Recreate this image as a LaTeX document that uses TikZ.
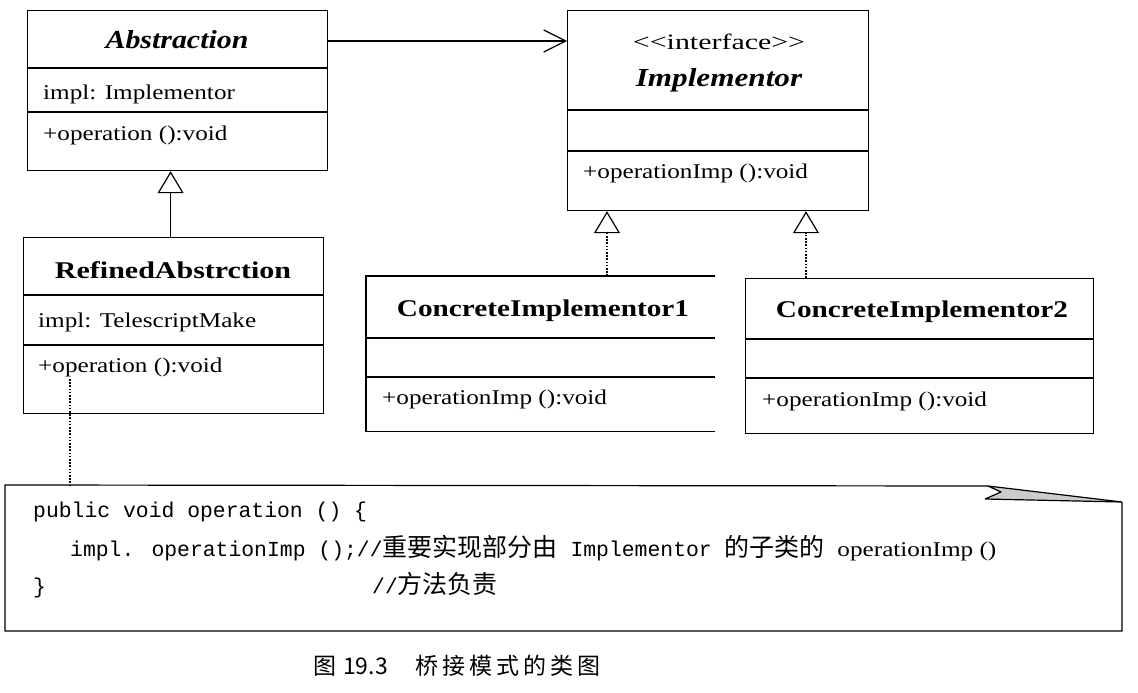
\documentclass[tikz,border=0pt]{standalone}
\usepackage{fontspec}
\usepackage{graphicx}
\setmainfont{Liberation Serif}
\newfontfamily\monof{Liberation Mono}
\newfontfamily\cjkf{Noto Sans CJK SC}
\usetikzlibrary{arrows.meta,calc}
\newcommand\sxx[2][1.2]{\scalebox{#1}[1]{#2}}
\newcommand\ck{\kern4pt}
\begin{document}
\begin{tikzpicture}[x=1pt,y=-1pt,
  cls/.style={draw, line width=1.2pt, anchor=north west, inner sep=0pt},
  ghost/.style={anchor=north west, inner sep=0pt},
  sepline/.style={line width=1.2pt},
  ttl/.style={inner sep=0pt, font=\fontsize{24}{24}\selectfont\bfseries},
  ittl/.style={inner sep=0pt, font=\fontsize{26}{26}\selectfont\bfseries\itshape},
  mem/.style={anchor=west, inner sep=0pt, font=\fontsize{21}{21}\selectfont},
  code/.style={anchor=base west, inner sep=0pt, font=\fontsize{21.4}{21.4}\monof},
  assoc/.style={line width=1.2pt, -{Straight Barb[length=22pt,width=22pt,line width=1.2pt]}},
  gen/.style={line width=1.2pt, -{Triangle[open,length=22pt,width=26pt,line width=1.2pt]}},
  real/.style={line width=1.6pt, dash pattern=on 1.6pt off 1.6pt, -{Triangle[open,length=22pt,width=26pt,line width=1.2pt]}},
  notelink/.style={line width=1.6pt, dash pattern=on 1.6pt off 1.6pt}
]
\useasboundingbox (0,0) rectangle (1138,693);

% Abstraction
\node[cls, minimum width=300pt, minimum height=160pt] (abs) at (27,10) {};
\draw[sepline] ($(abs.north west)+(0,58)$) -- ($(abs.north east)+(0,58)$);
\draw[sepline] ($(abs.north west)+(0,102)$) -- ($(abs.north east)+(0,102)$);
\node[ittl] (absT) at (177,40) {\sxx[1.15]{Abstraction}};
\node[mem] (absA) at (43,94) {\sxx{impl: Implementor}};
\node[mem] (absO) at (43,135) {\sxx{+operation ():void}};

% RefinedAbstraction
\node[cls, minimum width=300pt, minimum height=176pt] (ref) at (23,237) {};
\draw[sepline] ($(ref.north west)+(0,58)$) -- ($(ref.north east)+(0,58)$);
\draw[sepline] ($(ref.north west)+(0,108)$) -- ($(ref.north east)+(0,108)$);
\node[ttl] (refT) at (173,270) {\sxx[1.25]{RefinedAbstrction}};
\node[mem] (refA) at (38,322) {\sxx{impl: TelescriptMake}};
\node[mem] (refO) at (38,367) {\sxx{+operation ():void}};
\coordinate (refDot) at (70,379);

% Implementor
\node[cls, minimum width=301pt, minimum height=200pt] (imp) at (567,10) {};
\draw[sepline] ($(imp.north west)+(0,100)$) -- ($(imp.north east)+(0,100)$);
\draw[sepline] ($(imp.north west)+(0,141)$) -- ($(imp.north east)+(0,141)$);
\node[inner sep=0pt, font=\fontsize{22}{22}\selectfont] (impS) at (719,42) {\sxx[1.36]{<\kern0pt<interface>\kern0pt>}};
\node[ittl] (impT) at (719,80) {\sxx[1.2]{Implementor}};
\node[mem] (impO) at (583,173) {\sxx{+operationImp ():void}};

% ConcreteImplementor1 (no right edge)
\node[ghost, minimum width=349pt, minimum height=155pt] (ci1) at (366,276) {};
\draw[sepline] (ci1.north east) -- (ci1.north west) -- (ci1.south west) -- (ci1.south east);
\draw[sepline] ($(ci1.north west)+(0,62)$) -- ($(ci1.north east)+(0,62)$);
\draw[sepline] ($(ci1.north west)+(0,101)$) -- ($(ci1.north east)+(0,101)$);
\node[ttl] (ci1T) at (543,311) {\sxx[1.22]{ConcreteImplementor1}};
\node[mem] (ci1O) at (382,399) {\sxx{+operationImp ():void}};

% ConcreteImplementor2
\node[cls, minimum width=348pt, minimum height=155pt] (ci2) at (745,278) {};
\draw[sepline] ($(ci2.north west)+(0,61)$) -- ($(ci2.north east)+(0,61)$);
\draw[sepline] ($(ci2.north west)+(0,100)$) -- ($(ci2.north east)+(0,100)$);
\node[ttl] (ci2T) at (922,312) {\sxx[1.22]{ConcreteImplementor2}};
\node[mem] (ci2O) at (762,401) {\sxx{+operationImp ():void}};

% connectors
\draw[assoc] ($(abs.north east)+(0,31)$) -- ($(imp.north west)+(0,31)$);
\draw[gen] ($(ref.north)+(-3,0)$) -- ($(abs.south)+(-7,0)$);
\draw[real] ($(ci1.north west)+(241,0)$) -- ($(imp.south west)+(40,0)$);
\draw[real] ($(ci2.north west)+(61,0)$) -- ($(imp.south west)+(239,0)$);

% note
\coordinate (nTL) at (5,485);
\coordinate (nF1) at (988,486);
\coordinate (nF2) at (1001,492);
\coordinate (nF3) at (985,499);
\coordinate (nTR) at (1122,502);
\coordinate (nBR) at (1122,631);
\coordinate (nBL) at (5,631);
\draw[line width=1.2pt] (nF1) -- (nTL) -- (nBL) -- (nBR) -- (nTR);
\filldraw[fill=gray!40, line width=1.2pt, line join=bevel] (nF1) -- (nTR) -- (nF3) -- (nF2) -- cycle;
\draw[notelink] (refDot) -- (refDot |- nTL);

\node[code] (c1) at (33,517) {public void operation () \{};
\node[code] (c2) at (70,556) {impl. operationImp ();//{\cjkf\fontsize{25}{25}\selectfont 重要实现部分由} Implementor {\cjkf\fontsize{25}{25}\selectfont 的子类的} {\rmfamily\fontsize{21}{21}\selectfont\sxx{operationImp ()}}};
\node[code] (c3) at (33,593) {\}};
\node[code] (c4) at (372,593) {//{\cjkf\fontsize{25}{25}\selectfont 方法负责}};

% caption
\node[anchor=base west, inner sep=0pt, font=\cjkf\fontsize{23}{23}\selectfont] (cap) at (313,674) {图\kern7pt 19.3\hspace{28pt}桥\ck 接\ck 模\ck 式\ck 的\ck 类\ck 图};
\end{tikzpicture}
\end{document}
